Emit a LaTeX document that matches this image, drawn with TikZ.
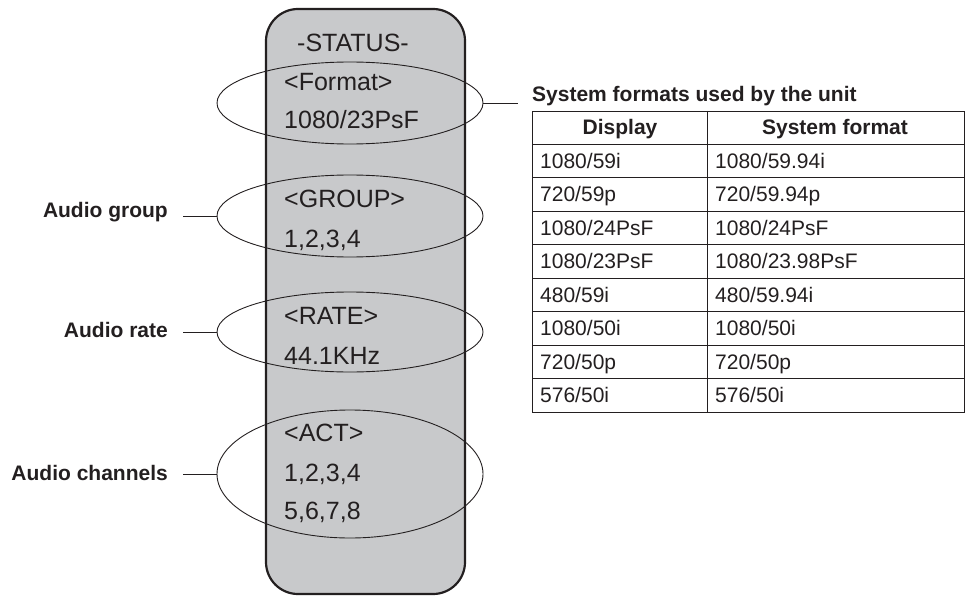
\documentclass[tikz,border=0pt]{standalone}
\usepackage{fontspec}
\setmainfont{Liberation Sans}
\usetikzlibrary{shapes.geometric}
\definecolor{ink}{RGB}{35,31,32}
\definecolor{panel}{RGB}{200,201,203}
\tikzset{
  boxtxt/.style={anchor=base west, inner sep=0, text=ink, font=\fontsize{25}{30}\selectfont},
  lbl/.style={anchor=base east, inner sep=0, text=ink, font=\fontsize{21}{25}\bfseries},
  ring/.style={draw=ink, line width=0.9pt, ellipse, minimum width=266pt, inner sep=0},
  conn/.style={draw=ink, line width=0.9pt},
  cell/.style={anchor=base west, inner sep=0, text=ink, font=\fontsize{21}{25}\selectfont},
  head/.style={anchor=base, inner sep=0, text=ink, font=\fontsize{21}{25}\bfseries},
  grid/.style={draw=ink, line width=0.9pt}
}
\begin{document}
\begin{tikzpicture}[x=1pt,y=-1pt]
\useasboundingbox (0,0) rectangle (965,596);
% status panel
\draw[draw=ink, line width=2.2pt, fill=panel, rounded corners=32pt] (266,9) rectangle (465,594);
\node[boxtxt] (st) at (297,52) {-STATUS-};
\node[boxtxt] (f1) at (284,91) {<Format>};
\node[boxtxt] (f2) at (284,129) {1080/23PsF};
\node[boxtxt] (g1) at (284,207) {<GROUP>};
\node[boxtxt] (g2) at (284,247) {1,2,3,4};
\node[boxtxt] (r1) at (284,324) {<RATE>};
\node[boxtxt] (r2) at (284,364) {44.1KHz};
\node[boxtxt] (a1) at (284,441) {<ACT>};
\node[boxtxt] (a2) at (284,481) {1,2,3,4};
\node[boxtxt] (a3) at (284,519) {5,6,7,8};
% ellipses
\node[ring, minimum height=82pt] (efmt) at (350,103) {};
\node[ring, minimum height=82pt] (egrp) at (350,216) {};
\node[ring, minimum height=80pt] (erate) at (350,332) {};
\node[ring, minimum height=128pt] (eact) at (350,474) {};
% left labels
\node[lbl] (lgrp) at (168,217) {Audio group};
\node[lbl] (lrate) at (168,337) {Audio rate};
\node[lbl] (lact) at (168,480) {Audio channels};
\coordinate (cg) at (183,216);
\coordinate (cr) at (183,332);
\coordinate (ca) at (183,474);
\draw[conn] (cg) -- (egrp.west);
\draw[conn] (cr) -- (erate.west);
\draw[conn] (ca) -- (eact.west);
% right connector and table
\coordinate (cf) at (518,103);
\draw[conn] (efmt.east) -- (cf);
\node[anchor=base west, inner sep=0, text=ink, font=\fontsize{21}{25}\bfseries] (ttl) at (532,102) {System formats used by the unit};
\draw[grid] (532,111) rectangle (964,412);
\draw[grid] (707,111) -- (707,412);
\foreach \y in {144,177.5,211,244.5,278,311.5,345,378.5} \draw[grid] (532,\y) -- (964,\y);
\node[head] (h1) at (620,135) {Display};
\node[head] (h2) at (835,135) {System format};
\foreach [count=\i] \a/\b in {{1080/59i}/{1080/59.94i}, {720/59p}/{720/59.94p}, {1080/24PsF}/{1080/24PsF}, {1080/23PsF}/{1080/23.98PsF}, {480/59i}/{480/59.94i}, {1080/50i}/{1080/50i}, {720/50p}/{720/50p}, {576/50i}/{576/50i}}{
  \pgfmathsetmacro{\yy}{144+33.5*(\i-1)+16.75+7.5}
  \node[cell] (d\i) at (540,\yy) {\a};
  \node[cell] (s\i) at (715,\yy) {\b};
}
\end{tikzpicture}
\end{document}
